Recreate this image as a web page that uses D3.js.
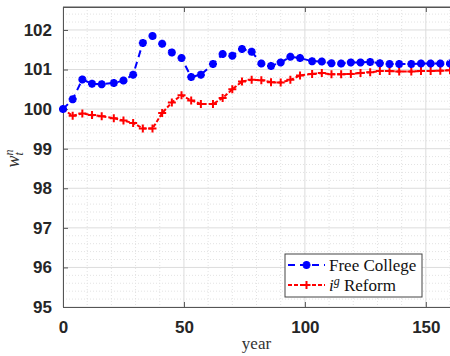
<!DOCTYPE html>
<html>
<head>
<meta charset="utf-8">
<script src="https://cdn.jsdelivr.net/npm/d3@7"></script>
<style>
	body { margin: 0; background: #fff; }
	.tick text { font-family: "Liberation Sans", Arial, sans-serif; font-weight: bold; font-size: 17px; fill: #262626; }
</style>
</head>
<body>
<div id="chart"></div>
<script>
// years (one marker roughly every 4.1 years)
var years = [0, 4, 8, 12, 16, 21, 25, 29, 33, 37, 41, 45, 49, 53, 57, 62, 66, 70, 74, 78,
	82, 86, 90, 94, 98, 103, 107, 111, 115, 119, 123, 127, 131, 135, 139, 144, 148, 152, 156, 160];

var freeCollege = [100.00, 100.25, 100.75, 100.64, 100.63, 100.66, 100.72, 100.87, 101.67, 101.85,
	101.65, 101.43, 101.29, 100.81, 100.87, 101.14, 101.39, 101.35, 101.52, 101.45,
	101.15, 101.09, 101.18, 101.32, 101.29, 101.21, 101.20, 101.16, 101.15, 101.18,
	101.18, 101.19, 101.16, 101.14, 101.14, 101.14, 101.15, 101.15, 101.15, 101.15];

var igReform = [100.00, 99.83, 99.89, 99.85, 99.82, 99.77, 99.71, 99.65, 99.51, 99.51,
	99.90, 100.17, 100.35, 100.22, 100.13, 100.13, 100.28, 100.50, 100.70, 100.74,
	100.73, 100.68, 100.67, 100.74, 100.85, 100.89, 100.91, 100.88, 100.88, 100.89,
	100.91, 100.93, 100.96, 100.96, 100.95, 100.95, 100.96, 100.96, 100.97, 100.98];

var xTicks = [0, 50, 100, 150];
var yTicks = [95, 96, 97, 98, 99, 100, 101, 102];

var W = 450, H = 356;
var margin = {top: 7, right: 0, bottom: 49, left: 63};
var width = W - margin.left - margin.right;
var height = H - margin.top - margin.bottom;

var svg = d3.select("#chart").append("svg")
	.attr("width", W)
	.attr("height", H)
	.append("g").attr("transform", "translate(" + margin.left + "," + margin.top + ")");

var x = d3.scaleLinear().domain([0, 160]).range([0, width]);
var y = d3.scaleLinear().domain([95, 102.58]).range([height, 0]);

// minor grid (dotted)
var xMinor = d3.range(0, 161, 10).filter(function (d) { return d % 50 !== 0; });
var yMinor = d3.range(95, 102.6, 0.2).filter(function (d) { return Math.abs(d - Math.round(d)) > 0.01; });

svg.append("g").selectAll("line").data(xMinor).enter().append("line")
	.attr("x1", function (d) { return x(d); }).attr("x2", function (d) { return x(d); })
	.attr("y1", 0).attr("y2", height)
	.attr("stroke", "#e3e3e3").attr("stroke-dasharray", "1,2");
svg.append("g").selectAll("line").data(yMinor).enter().append("line")
	.attr("y1", function (d) { return y(d); }).attr("y2", function (d) { return y(d); })
	.attr("x1", 0).attr("x2", width)
	.attr("stroke", "#e3e3e3").attr("stroke-dasharray", "1,2");

// major grid
svg.append("g").selectAll("line").data(xTicks).enter().append("line")
	.attr("x1", function (d) { return x(d); }).attr("x2", function (d) { return x(d); })
	.attr("y1", 0).attr("y2", height)
	.attr("stroke", "#dcdcdc");
svg.append("g").selectAll("line").data(yTicks).enter().append("line")
	.attr("y1", function (d) { return y(d); }).attr("y2", function (d) { return y(d); })
	.attr("x1", 0).attr("x2", width)
	.attr("stroke", "#dcdcdc");

// axes
var axisLeft = d3.axisLeft(y).tickValues(yTicks).tickSizeInner(-5).tickSizeOuter(0).tickPadding(11);
svg.append("g").attr("class", "axis axis--yl").call(axisLeft);

var axisBottom = d3.axisBottom(x).tickValues(xTicks).tickSizeInner(-5).tickSizeOuter(0).tickPadding(11);
svg.append("g").attr("class", "axis axis--xb")
	.attr("transform", "translate(0," + height + ")")
	.call(axisBottom);

var axisTop = d3.axisTop(x).tickValues(xTicks).tickSizeInner(-5).tickSizeOuter(0).tickFormat("");
svg.append("g").attr("class", "axis axis--xt").call(axisTop);

svg.selectAll(".axis path, .axis line").attr("stroke", "#555");
svg.selectAll(".axis--xb .tick text").attr("dy", "0.9em");

// lines
var line = d3.line()
	.x(function (d, i) { return x(years[i]); })
	.y(function (d) { return y(d); });

svg.append("path").datum(igReform)
	.attr("d", line).attr("fill", "none")
	.attr("stroke", "#ff0000").attr("stroke-width", 2)
	.attr("stroke-dasharray", "4,2");

svg.append("path").datum(freeCollege)
	.attr("d", line).attr("fill", "none")
	.attr("stroke", "#0000ff").attr("stroke-width", 2)
	.attr("stroke-dasharray", "7,5");

var plus = function (r) { return "M" + (-r) + ",0L" + r + ",0M0," + (-r) + "L0," + r; };
var star = function (r) {
	var a = r * 0.707;
	return plus(r) + "M" + (-a) + "," + (-a) + "L" + a + "," + a + "M" + (-a) + "," + a + "L" + a + "," + (-a);
};

svg.append("g").selectAll("path").data(igReform).enter().append("path")
	.attr("transform", function (d, i) { return "translate(" + x(years[i]) + "," + y(d) + ")"; })
	.attr("d", plus(4)).attr("stroke", "#ff0000").attr("stroke-width", 2).attr("fill", "none");

svg.append("g").selectAll("path").data(freeCollege).enter().append("path")
	.attr("transform", function (d, i) { return "translate(" + x(years[i]) + "," + y(d) + ")"; })
	.attr("d", star(4)).attr("stroke", "#0000ff").attr("stroke-width", 2.6).attr("fill", "none");

// box top
svg.append("line").attr("x1", 0).attr("x2", width).attr("y1", 0).attr("y2", 0).attr("stroke", "#555");

// axis labels
svg.append("text")
	.attr("x", width / 2).attr("y", height + 42)
	.attr("text-anchor", "middle")
	.style("font-family", "'Liberation Serif', serif").style("font-size", "17px").attr("fill", "#333")
	.text("year");

var yl = svg.append("text")
	.attr("transform", "translate(" + (-44) + "," + (y(98.75)) + ") rotate(-90)")
	.attr("text-anchor", "middle")
	.style("font-family", "'Liberation Serif', serif").style("font-style", "italic").attr("fill", "#333");
yl.append("tspan").style("font-size", "18px").text("w");
yl.append("tspan").attr("dy", -6).style("font-size", "12px").text("n");
yl.append("tspan").attr("dx", -6).attr("dy", 10).style("font-size", "12px").text("t");

// legend
var lg = svg.append("g").attr("transform", "translate(" + (285 - margin.left) + "," + (254 - margin.top) + ")");
lg.append("rect").attr("width", 137).attr("height", 43)
	.attr("fill", "#fff").attr("stroke", "#444").attr("stroke-width", 1);

var legendItems = [
	{color: "#0000ff", dash: "7,5", marker: star(4), sw: 2.6, y: 11},
	{color: "#ff0000", dash: "4,2", marker: plus(4), sw: 2, y: 31}
];
legendItems.forEach(function (d) {
	lg.append("line").attr("x1", 3).attr("x2", 40).attr("y1", d.y).attr("y2", d.y)
		.attr("stroke", d.color).attr("stroke-width", 2).attr("stroke-dasharray", d.dash);
	lg.append("path").attr("transform", "translate(21.5," + d.y + ")")
		.attr("d", d.marker).attr("stroke", d.color).attr("stroke-width", d.sw).attr("fill", "none");
});

lg.append("text").attr("x", 44).attr("y", 11).attr("dy", "0.35em")
	.style("font-family", "'Liberation Serif', serif").style("font-size", "17px").attr("fill", "#111")
	.text("Free College");
var t2 = lg.append("text").attr("x", 44).attr("y", 31).attr("dy", "0.35em")
	.style("font-family", "'Liberation Serif', serif").style("font-size", "17px").attr("fill", "#111");
t2.append("tspan").style("font-style", "italic").text("i");
t2.append("tspan").attr("dy", -6).style("font-size", "12px").style("font-style", "italic").text("g");
t2.append("tspan").attr("dy", 6).text(" Reform");
</script>
</body>
</html>
